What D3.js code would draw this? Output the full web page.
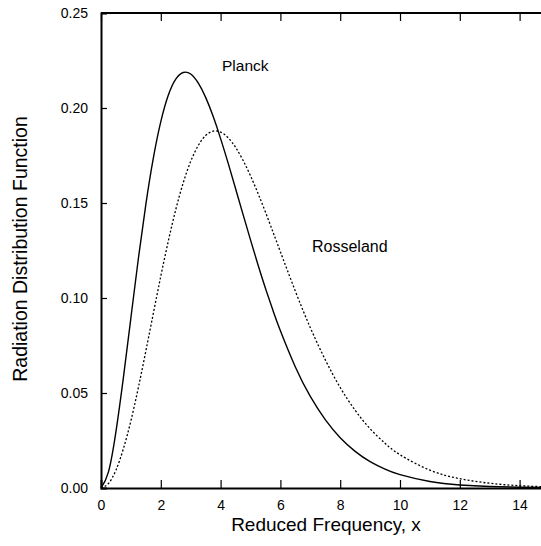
<!DOCTYPE html>
<html>
<head>
<meta charset="utf-8">
<script src="https://cdn.jsdelivr.net/npm/d3@7"></script>
<style>
  body { margin: 0; background: #fff; }
  svg { display: block; font-family: "Liberation Sans", Arial, sans-serif; }
  .axis text { font-size: 14px; fill: #000; }
  .axis path, .axis line { stroke: #000; }
</style>
</head>
<body>
<div id="chart"></div>
<script>
// values
var xValues = [0, 0.25, 0.5, 0.75, 1, 1.25, 1.5, 1.75, 2, 2.25, 2.5, 2.75, 3, 3.25, 3.5, 3.75, 4, 4.25, 4.5, 4.75, 5, 5.25, 5.5, 5.75, 6, 6.5, 7, 7.5, 8, 8.5, 9, 9.5, 10, 11, 12, 13, 14, 15];
var planckValues = [0, 0.0085, 0.0297, 0.0582, 0.0896, 0.1208, 0.1493, 0.1736, 0.1928, 0.2067, 0.2152, 0.2187, 0.2179, 0.2132, 0.2056, 0.1956, 0.1839, 0.1711, 0.1576, 0.1440, 0.1306, 0.1175, 0.1051, 0.0935, 0.0827, 0.0637, 0.0482, 0.0360, 0.0265, 0.0193, 0.0139, 0.0099, 0.0070, 0.0034, 0.0016, 0.0008, 0.0004, 0.0002];
var rosselandValues = [0, 0.0024, 0.0094, 0.0207, 0.0354, 0.0529, 0.0721, 0.0919, 0.1115, 0.1299, 0.1465, 0.1606, 0.1719, 0.1802, 0.1855, 0.1878, 0.1873, 0.1844, 0.1793, 0.1725, 0.1643, 0.1551, 0.1452, 0.1348, 0.1243, 0.1036, 0.0844, 0.0675, 0.0529, 0.0409, 0.0312, 0.0235, 0.0175, 0.0094, 0.0049, 0.0025, 0.0012, 0.0006];
var xTicks = [0, 2, 4, 6, 8, 10, 12, 14];
var yTicks = [0, 0.05, 0.10, 0.15, 0.20, 0.25];

var size = { w: 541, h: 546 };
var margin = { left: 101, top: 13, bottom: 58 };

var svg = d3.select('#chart').append('svg')
  .attr('width', size.w)
  .attr('height', size.h);

var x = d3.scaleLinear().domain([0, 15]).range([margin.left, margin.left + 15 * 29.9]);
var y = d3.scaleLinear().domain([0, 0.25]).range([size.h - margin.bottom, margin.top]);

// frame
svg.append('line')
  .attr('x1', x(0)).attr('x2', x(15)).attr('y1', y(0.25)).attr('y2', y(0.25))
  .attr('stroke', '#000').attr('stroke-width', 1.8);

// bottom axis
var xAxis = d3.axisBottom(x).tickValues(xTicks).tickSize(-8).tickPadding(12)
  .tickFormat(d3.format('d'));
svg.append('g')
  .attr('class', 'axis')
  .attr('transform', 'translate(0,' + y(0) + ')')
  .call(xAxis)
  .call(function(g) {
    g.select('.domain').attr('stroke-width', 1.8);
    g.selectAll('.tick line').attr('stroke-width', 1.2);
  });

// top axis, ticks only
svg.append('g')
  .attr('class', 'axis')
  .attr('transform', 'translate(0,' + y(0.25) + ')')
  .call(d3.axisTop(x).tickValues(xTicks).tickSize(-8).tickFormat(''))
  .call(function(g) {
    g.select('.domain').remove();
    g.selectAll('.tick line').attr('stroke-width', 1.2);
  });

// left axis
var yAxis = d3.axisLeft(y).tickValues(yTicks).tickSize(-6).tickPadding(13)
  .tickFormat(d3.format('.2f'));
svg.append('g')
  .attr('class', 'axis')
  .attr('transform', 'translate(' + x(0) + ',0)')
  .call(yAxis)
  .call(function(g) {
    g.select('.domain').attr('stroke-width', 2);
    g.selectAll('.tick line').attr('stroke-width', 1.2);
  });

// curves
var line = d3.line()
  .x(function(d) { return x(d[0]); })
  .y(function(d) { return y(d[1]); })
  .curve(d3.curveNatural);

svg.append('path')
  .datum(xValues.map(function(v, i) { return [v, planckValues[i]]; }))
  .attr('d', line)
  .attr('fill', 'none')
  .attr('stroke', '#000')
  .attr('stroke-width', 1.4);

svg.append('path')
  .datum(xValues.map(function(v, i) { return [v, rosselandValues[i]]; }))
  .attr('d', line)
  .attr('fill', 'none')
  .attr('stroke', '#000')
  .attr('stroke-width', 1.3)
  .attr('stroke-dasharray', '2,2');

// curve labels
svg.append('text')
  .attr('x', 222).attr('y', 71)
  .attr('font-size', 15.5)
  .text('Planck');
svg.append('text')
  .attr('x', 312).attr('y', 252)
  .attr('font-size', 16)
  .text('Rosseland');

// axis titles
svg.append('text')
  .attr('x', 326).attr('y', 531)
  .attr('text-anchor', 'middle')
  .attr('font-size', 19)
  .text('Reduced Frequency, x');
svg.append('text')
  .attr('transform', 'translate(27,249) rotate(-90)')
  .attr('text-anchor', 'middle')
  .attr('font-size', 19.5)
  .text('Radiation Distribution Function');
</script>
</body>
</html>
